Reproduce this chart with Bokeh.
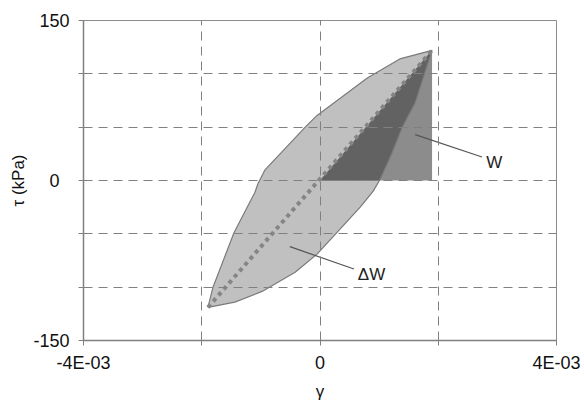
import numpy as np
from bokeh.plotting import figure
from bokeh.models import FixedTicker, Range1d
from bokeh.core.properties import value
from bokeh.embed import file_html
from bokeh.resources import INLINE

# hysteresis loop branches: shear strain γ and shear stress τ (kPa)
gamma_upper = [-1.895e-3, -1.81e-3, -1.455e-3, -1.10e-3, -1.05e-3, -0.93e-3,
               -0.25e-3, -0.05e-3, 0.80e-3, 1.35e-3, 1.895e-3]
tau_upper = [-119, -100, -49, -11, -3, 10, 50, 61, 96, 114, 122]
gamma_lower = [1.895e-3, 1.61e-3, 1.39e-3, 1.22e-3, 1.015e-3, 0.90e-3, 0.68e-3,
               0.30e-3, -0.05e-3, -0.42e-3, -0.98e-3, -1.44e-3, -1.895e-3]
tau_lower = [122, 73, 50, 26, 1, -10, -25, -48, -69, -86, -104, -114, -119]

x_ticks = [-4e-3, -2e-3, 0.0, 2e-3, 4e-3]
x_tick_labels = ["-4E-03", "", "0", "", "4E-03"]
y_ticks = [-150, -100, -50, 0, 50, 100, 150]
y_tick_labels = ["-150", "", "", "0\u2007", "", "", "150"]

ann_text = ["W", "ΔW"]
ann_x = [2.81e-3, 0.64e-3]
ann_y = [17, -88]
leader_xs = [[1.61e-3, 2.74e-3], [-0.51e-3, 0.575e-3]]
leader_ys = [[43, 22], [-62, -83]]

GRID = "#808080"
FONT = "Liberation Sans"

p = figure(width=584, height=403, output_backend="svg", toolbar_location=None,
           x_range=Range1d(-4e-3, 4e-3), y_range=Range1d(-150, 150),
           min_border_left=83, min_border_right=28, min_border_top=20,
           min_border_bottom=61)
p.background_fill_color = "white"
p.outline_line_color = "#8c8c8c"
p.outline_line_width = 1

# loop fill
loop_x = gamma_upper + gamma_lower[1:-1]
loop_y = tau_upper + tau_lower[1:-1]
p.patch(loop_x, loop_y, fill_color="#c0c0c0", line_color=None)

# W triangle
gmax, tmax = gamma_upper[-1], tau_upper[-1]
p.patch([0.0, gmax, gmax], [0.0, tmax, 0.0], fill_color="#8c8c8c", line_color=None)

# overlap of triangle with loop (dark)
g0 = float(np.interp(0.0, tau_lower[::-1], gamma_lower[::-1]))
ov_x = [0.0, gmax] + [g for g, t in zip(gamma_lower[1:], tau_lower[1:]) if t > 0] + [g0]
ov_y = [0.0, tmax] + [t for t in tau_lower[1:] if t > 0] + [0.0]
p.patch(ov_x, ov_y, fill_color="#626262", line_color=None)

# loop outline
p.line(loop_x + [loop_x[0]], loop_y + [loop_y[0]], line_color="#7a7a7a", line_width=1.2)

# dotted secant line
p.line([gamma_upper[0], gamma_upper[-1]], [tau_upper[0], tau_upper[-1]],
       line_color="#858585", line_width=4, line_dash="4 4", line_cap="butt")

# leaders and labels
p.multi_line(leader_xs, leader_ys, line_color="#555555", line_width=1.2)
p.text(ann_x, ann_y, text=ann_text, text_font=value(FONT), text_font_size="17px",
       text_color="#222222", text_align="left", text_baseline="middle")

for ax, ticks, labels in ((p.xaxis[0], x_ticks, x_tick_labels), (p.yaxis[0], y_ticks, y_tick_labels)):
    ax.ticker = FixedTicker(ticks=ticks)
    ax.major_label_overrides = {t: l for t, l in zip(ticks, labels)}
    ax.minor_tick_line_color = None
    ax.major_tick_out = 5
    ax.major_tick_in = 0
    ax.major_tick_line_color = "#808080"
    ax.axis_line_color = "#808080"
    ax.axis_line_width = 1.5
    ax.major_label_text_font = FONT
    ax.major_label_text_font_size = "18px"
    ax.major_label_text_color = "#111111"
    ax.axis_label_text_font = FONT
    ax.axis_label_text_font_style = "normal"
    ax.axis_label_text_font_size = "17px"
    ax.axis_label_text_color = "#111111"

p.xaxis.axis_label = "γ"
p.yaxis.axis_label = "τ (kPa)"
p.xaxis.major_label_standoff = 7
p.xaxis.axis_label_standoff = 6
p.yaxis.major_label_standoff = 9
p.yaxis.axis_label_standoff = 2

for g in (p.xgrid[0], p.ygrid[0]):
    g.grid_line_color = GRID
    g.grid_line_dash = "9 6"
    g.grid_line_width = 1
    g.level = "annotation"
p.xgrid[0].ticker = FixedTicker(ticks=x_ticks)
p.ygrid[0].ticker = FixedTicker(ticks=y_ticks)

open("out.html", "w").write(file_html(p, INLINE))
